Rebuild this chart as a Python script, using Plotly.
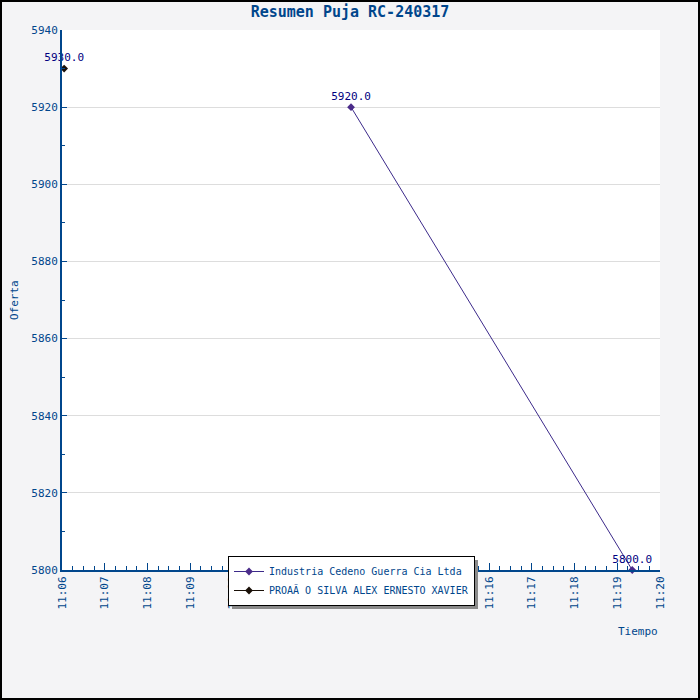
import plotly.graph_objects as go

# bid history
ser1_name = "Industria Cedeno Guerra Cia Ltda"
ser1_time = ["2024-03-17 11:12:46", "2024-03-17 11:19:21"]
ser1_bid = [5920.0, 5800.0]

ser2_name = "PROAÃ O SILVA ALEX ERNESTO XAVIER"
ser2_time = ["2024-03-17 11:06:03"]
ser2_bid = [5930.0]

blue = "#00468c"
mono = "DejaVu Sans Mono"

fig = go.Figure()
fig.add_trace(go.Scatter(
    x=ser1_time, y=ser1_bid, name=ser1_name, mode="lines+markers+text",
    line=dict(color="#3c2a8a", width=1), marker=dict(symbol="diamond", size=6, color="#4b2c8a"),
    text=[f"{v:.1f}" for v in ser1_bid], textposition="top center",
    textfont=dict(family=mono, size=11, color="#000080"), cliponaxis=False))
fig.add_trace(go.Scatter(
    x=ser2_time, y=ser2_bid, name=ser2_name, mode="lines+markers+text",
    line=dict(color="#1a1008", width=1), marker=dict(symbol="diamond", size=6, color="#1a1008"),
    text=[f"{v:.1f}" for v in ser2_bid], textposition="top center",
    textfont=dict(family=mono, size=11, color="#000080"), cliponaxis=False))

L, R, T, B = 62, 40, 30, 130
pw, ph = 700 - L - R, 700 - T - B

# legend box in pixels (plotly rows are ~19px each)
lg_left, lg_top, lg_w, lg_h = 228, 556, 246, 49

fig.update_layout(
    width=700, height=700, margin=dict(l=L, r=R, t=T, b=B),
    paper_bgcolor="#f4f4f6", plot_bgcolor="white",
    font=dict(family=mono, size=11, color=blue),
    hovermode=False,
    title=dict(text="<b>Resumen Puja RC-240317</b>", x=0.5, xref="container", xanchor="center",
               y=0.983, yanchor="middle",
               font=dict(family=mono, size=15, color=blue)),
    xaxis=dict(type="date", range=["2024-03-17 11:06:00", "2024-03-17 11:20:00"],
               dtick=60000, tickformat="%H:%M", tickangle=-90, ticks="inside", ticklen=7,
               tickcolor=blue, showline=True, linecolor=blue, linewidth=2, showgrid=False,
               zeroline=False, minor=dict(dtick=15000, ticks="inside", ticklen=4, tickcolor=blue)),
    yaxis=dict(range=[5800, 5940], dtick=20, ticks="inside", ticklen=5, tickcolor=blue,
               showline=True, linecolor=blue, linewidth=2, gridcolor="#dddddd",
               zeroline=False, tickformat="d",
               minor=dict(dtick=10, ticks="inside", ticklen=3, tickcolor=blue, showgrid=False)),
    legend=dict(x=(lg_left - L) / pw, y=(T + ph - lg_top) / ph, xanchor="left", yanchor="top",
                bgcolor="white", bordercolor="black", borderwidth=1,
                font=dict(family=mono, size=10, color=blue), tracegroupgap=0),
    showlegend=True,
)

fig.add_annotation(text="Tiempo", xref="paper", yref="paper", x=1, y=-(631 - T - ph) / ph,
                   xanchor="right", yanchor="middle", showarrow=False,
                   font=dict(family=mono, size=11, color=blue))
fig.add_annotation(text="Oferta", xref="paper", yref="paper", x=-(L - 14) / pw, y=0.5,
                   textangle=-90, xanchor="center", yanchor="middle", showarrow=False,
                   font=dict(family=mono, size=11, color=blue))

# legend drop shadow
fig.add_shape(type="rect", xref="paper", yref="paper", layer="above",
              x0=(lg_left + 4 - L) / pw, x1=(lg_left + lg_w + 4 - L) / pw,
              y0=(T + ph - (lg_top + lg_h + 4)) / ph, y1=(T + ph - (lg_top + 4)) / ph,
              fillcolor="#8a8a8a", line=dict(width=0))
# outer frame
fig.add_shape(type="rect", xref="paper", yref="paper",
              x0=-(L - 1) / pw, x1=1 + (R - 1) / pw, y0=-(B - 1) / ph, y1=1 + (T - 1) / ph,
              line=dict(color="black", width=2))

fig.write_html("out.html", config={"displayModeBar": False},
               post_script="document.body.style.margin='0';")
